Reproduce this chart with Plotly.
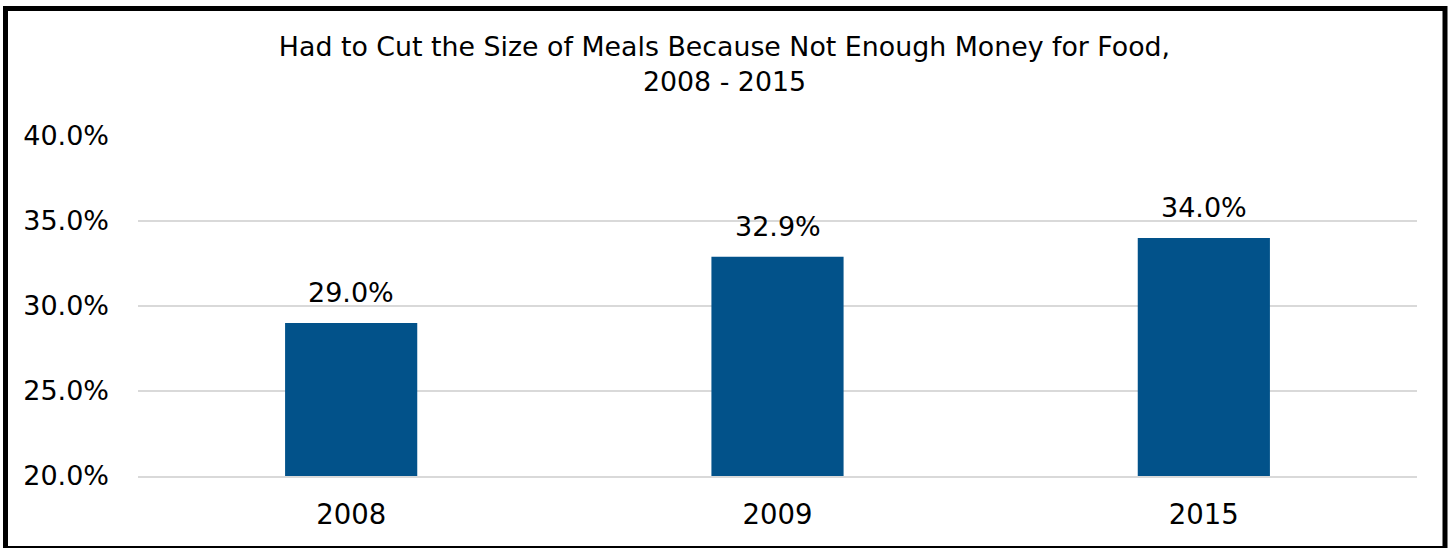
import plotly.graph_objects as go

years = ["2008", "2009", "2015"]
values = [29.0, 32.9, 34.0]
title_lines = ["Had to Cut the Size of Meals Because Not Enough Money for Food,", "2008 - 2015"]

W, H = 1449, 548
ml, mr, mt, mb = 138, 32, 136, 72
pw, ph = W - ml - mr, H - mt - mb

def px_x(p):
    return (p - ml) / pw

def px_y(p):
    return (H - mb - p) / ph

font_family = "DejaVu Sans, Liberation Sans, Arial, sans-serif"

fig = go.Figure(go.Bar(
    x=years, y=values,
    marker=dict(color="#02528A", line=dict(width=0)),
    width=0.31,
    hoverinfo="skip",
))

for i, v in enumerate(values):
    fig.add_annotation(
        x=i, y=v, xref="x", yref="y",
        text=f"{v:.1f}%", showarrow=False,
        yanchor="bottom", yshift=13,
        font=dict(size=27, color="#000000", family=font_family),
    )

fig.update_layout(
    width=W, height=H,
    margin=dict(l=ml, r=mr, t=mt, b=mb),
    paper_bgcolor="white", plot_bgcolor="white",
    showlegend=False,
    font=dict(family=font_family, color="#000000"),
    title=dict(
        text="<br>".join(title_lines),
        x=0.5, xref="container", xanchor="center",
        y=1 - 56 / H, yref="container", yanchor="top",
        font=dict(size=26.8, color="#000000", family=font_family),
    ),
    xaxis=dict(
        type="category",
        range=[-0.5, len(years) - 0.5],
        showgrid=False,
        showline=True, linecolor="#d9d9d9", linewidth=2,
        ticks="",
        tickfont=dict(size=27.5, color="#000000"),
        ticklabelstandoff=13,
    ),
    yaxis=dict(
        range=[20, 40], dtick=5,
        tickformat=".1f", ticksuffix="%",
        showgrid=True, gridcolor="#d9d9d9", gridwidth=2,
        zeroline=False, showline=False, ticks="",
        tickfont=dict(size=27, color="#000000"),
        ticklabelstandoff=28,
    ),
    shapes=[dict(
        type="rect", xref="paper", yref="paper",
        x0=px_x(5.5), x1=px_x(1445), y0=px_y(548.5), y1=px_y(8.5),
        line=dict(color="black", width=5), fillcolor="rgba(0,0,0,0)",
        layer="above",
    )],
)

fig.write_html(
    "out.html",
    config={"displayModeBar": False},
    post_script="document.body.style.margin='0';document.body.style.overflow='hidden';",
)
